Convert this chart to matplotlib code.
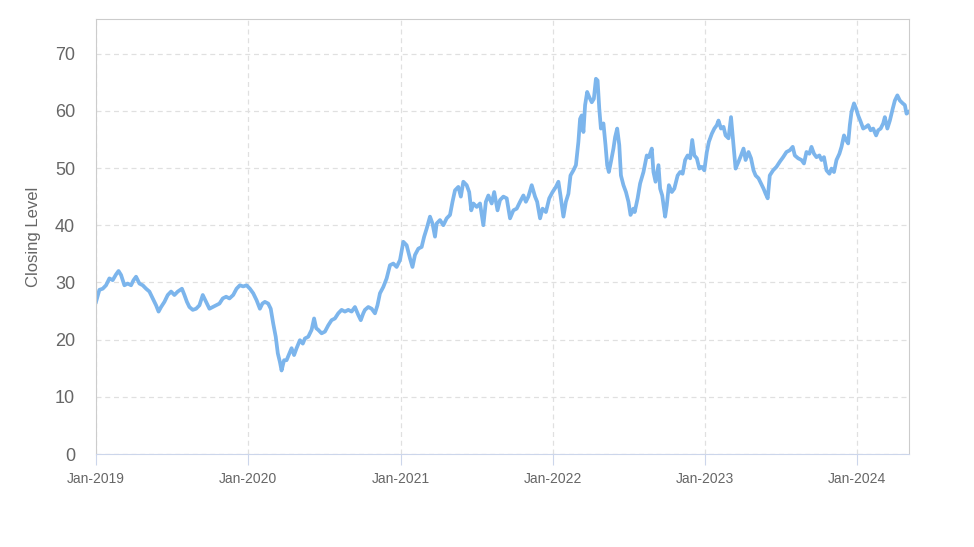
import matplotlib
matplotlib.use("Agg")
import matplotlib.pyplot as plt
import matplotlib.dates as mdates
import pandas as pd

plt.rcParams['font.family'] = ['Liberation Sans', 'DejaVu Sans']

# closing level; x values are days after 2019-01-01
start_date = pd.Timestamp('2019-01-01')
end_date = pd.Timestamp('2024-05-04')

days_2019 = [0, 8, 16, 24, 32, 40, 48, 54, 60, 68,
             76, 84, 90, 96, 104, 112, 120, 128, 136, 144,
             150, 156, 164, 172, 180, 188, 196, 206, 212, 218,
             224, 232, 240, 248, 256, 264, 272, 280, 288, 296,
             304, 312, 320]
close_2019 = [26.6, 28.7, 28.9, 29.5, 30.7, 30.4, 31.4, 32.0, 31.3, 29.5,
              29.8, 29.5, 30.4, 31.0, 29.8, 29.5, 28.9, 28.4, 27.2, 26.0,
              24.9, 25.7, 26.6, 27.8, 28.4, 27.8, 28.4, 28.9, 27.8, 26.6,
              25.7, 25.2, 25.4, 26.0, 27.8, 26.6, 25.4, 25.7, 26.0, 26.3,
              27.2, 27.5, 27.2]

days_2020 = [329, 337, 345, 353, 361, 369, 377, 385, 393, 399,
             405, 413, 419, 425, 431, 436, 441, 445, 451, 457,
             464, 469, 475, 481, 489, 496, 501, 509, 517, 523,
             528, 533, 541, 549, 557, 565, 573, 581, 589, 597,
             605, 613, 621, 629, 635, 641]
close_2020 = [27.8, 28.9, 29.5, 29.3, 29.5, 28.9, 28.1, 26.9, 25.4, 26.3,
              26.6, 26.3, 25.4, 22.8, 20.5, 17.6, 16.1, 14.6, 16.4, 16.4,
              17.6, 18.5, 17.3, 18.5, 19.9, 19.3, 20.2, 20.5, 21.7, 23.7,
              22.0, 21.7, 21.1, 21.4, 22.5, 23.4, 23.7, 24.6, 25.2, 24.9,
              25.2, 24.9, 25.7, 24.3, 23.4, 24.6]

days_2021 = [645, 653, 661, 669, 675, 681, 689, 697, 705, 713,
             721, 729, 737, 745, 753, 759, 765, 773, 781, 787,
             793, 801, 807, 813, 817, 825, 833, 841, 849, 855,
             861, 869, 875, 881, 889, 895, 900, 905, 913, 921,
             929, 935, 941, 949, 955, 963, 969, 977]
close_2021 = [25.2, 25.7, 25.4, 24.6, 26.0, 28.1, 29.2, 30.7, 33.0, 33.3,
              32.7, 33.9, 37.1, 36.5, 34.2, 32.7, 34.8, 35.9, 36.2, 38.0,
              39.4, 41.5, 40.3, 38.0, 40.3, 40.9, 40.0, 41.2, 41.8, 44.1,
              46.1, 46.7, 45.0, 47.6, 47.0, 45.8, 42.6, 43.8, 43.2, 43.8,
              40.0, 44.1, 45.2, 43.8, 45.8, 42.6, 44.4, 45.0]

days_2022 = [985, 993, 1001, 1009, 1017, 1025, 1031, 1037, 1045, 1053,
             1058, 1065, 1071, 1079, 1087, 1095, 1103, 1109, 1114, 1121,
             1127, 1133, 1138, 1145, 1151, 1157, 1161, 1165, 1169, 1173,
             1178, 1183, 1189, 1194, 1199, 1203, 1207, 1211, 1217, 1222,
             1226, 1230, 1235, 1241, 1245, 1250, 1255, 1259, 1265, 1271,
             1277, 1282, 1289]
close_2022 = [44.7, 41.2, 42.6, 42.9, 44.1, 45.2, 44.1, 45.0, 47.0, 45.0,
              44.1, 41.2, 42.9, 42.3, 44.7, 45.8, 46.7, 47.6, 45.2, 41.5,
              44.1, 45.5, 48.7, 49.6, 50.5, 54.6, 58.6, 59.2, 56.3, 61.0,
              63.3, 62.4, 61.5, 62.1, 65.6, 65.3, 60.4, 56.9, 57.8, 54.0,
              50.5, 49.3, 51.1, 53.4, 55.4, 56.9, 54.0, 48.7, 47.0, 45.8,
              44.1, 41.8, 42.9]

days_2023 = [1292, 1299, 1305, 1313, 1321, 1326, 1333, 1337, 1342, 1349,
             1353, 1358, 1365, 1369, 1374, 1381, 1387, 1395, 1401, 1407,
             1413, 1419, 1425, 1430, 1435, 1441, 1447, 1453, 1459, 1465,
             1470, 1477, 1483, 1489, 1493, 1499, 1505, 1510, 1517, 1523,
             1529, 1534, 1541, 1547, 1553, 1558, 1565, 1571, 1577, 1582,
             1589, 1595, 1601, 1606, 1611]
close_2023 = [42.3, 44.7, 47.3, 49.3, 52.2, 51.9, 53.4, 49.3, 47.6, 50.5,
              46.4, 45.2, 41.5, 43.5, 47.0, 45.8, 46.4, 48.7, 49.3, 49.0,
              51.4, 52.2, 51.7, 54.9, 52.2, 51.7, 49.9, 50.2, 49.6, 52.8,
              54.6, 56.0, 56.9, 57.5, 58.3, 56.9, 57.2, 55.7, 55.2, 58.9,
              54.0, 49.9, 51.1, 52.2, 53.4, 51.4, 52.8, 51.7, 49.6, 48.7,
              48.2, 47.3, 46.4, 45.5, 44.7]

days_2024 = [1616, 1624, 1632, 1640, 1648, 1656, 1664, 1671, 1676, 1684,
             1692, 1698, 1704, 1711, 1716, 1722, 1728, 1735, 1740, 1746,
             1752, 1759, 1764, 1770, 1776, 1783, 1788, 1794, 1799, 1804,
             1808, 1812, 1818, 1823, 1828, 1834, 1840, 1847, 1852, 1858,
             1864, 1871, 1876, 1882, 1888, 1892, 1898, 1904, 1911, 1916,
             1922, 1928, 1935, 1940, 1944, 1949]
close_2024 = [48.7, 49.6, 50.2, 51.1, 51.9, 52.8, 53.1, 53.7, 52.2, 51.7,
              51.4, 50.8, 52.8, 52.5, 53.7, 52.5, 51.9, 52.2, 51.4, 51.9,
              49.6, 49.0, 49.9, 49.3, 51.4, 52.5, 53.7, 55.7, 54.9, 54.3,
              57.5, 59.8, 61.3, 60.4, 59.2, 58.1, 56.9, 57.2, 57.5, 56.6,
              56.9, 55.7, 56.6, 56.9, 57.8, 58.9, 56.9, 58.3, 60.4, 61.8,
              62.7, 61.8, 61.3, 61.0, 59.5, 59.8]

days = days_2019 + days_2020 + days_2021 + days_2022 + days_2023 + days_2024
close = close_2019 + close_2020 + close_2021 + close_2022 + close_2023 + close_2024
dates = start_date + pd.to_timedelta(days, unit='D')

y_ticks = [0, 10, 20, 30, 40, 50, 60, 70]

label_color = '#666666'
grid_color = '#e0e0e0'

fig = plt.figure(figsize=(9.74, 5.47), dpi=100)
ax = fig.add_axes([0.0986, 0.170, 0.8347, 0.7947])

ax.plot(dates, close, color='#7cb5ec', linewidth=2.7, solid_joinstyle='round')

ax.set_xlim(start_date, end_date)
ax.set_ylim(0, 76)
ax.set_yticks(y_ticks)

ax.xaxis.set_major_locator(mdates.YearLocator())
ax.xaxis.set_major_formatter(mdates.DateFormatter('%b-%Y'))

ax.grid(True, color=grid_color, linestyle=(0, (4, 3)), linewidth=0.9)
ax.set_axisbelow(True)

for side in ['left', 'top', 'right']:
    ax.spines[side].set_color('#cccccc')
ax.spines['bottom'].set_color('#ccd6eb')

ax.tick_params(axis='y', length=0, pad=15, labelsize=13, labelcolor=label_color)
ax.tick_params(axis='x', length=8, color='#ccd6eb', pad=5, labelsize=10,
               labelcolor=label_color)

ax.set_ylabel('Closing Level', fontsize=12, color=label_color, labelpad=10)

fig.savefig('out.png', dpi=100)
